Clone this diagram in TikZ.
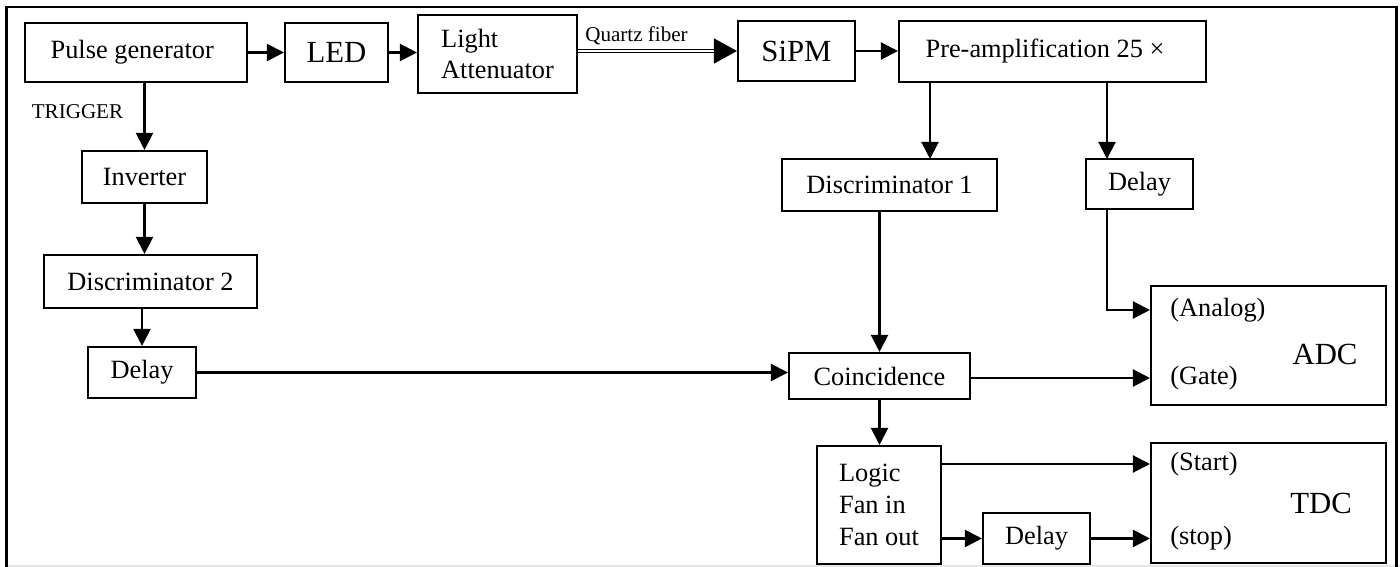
\documentclass[tikz,border=0pt]{standalone}
\usepackage{fontspec}
\setmainfont{Liberation Serif}
\usetikzlibrary{arrows.meta,calc,positioning}
\begin{document}
\begin{tikzpicture}[x=0.02cm,y=-0.02cm,>={Triangle[length=0.34cm,width=0.34cm]},
  box/.style={draw,line width=1.2pt,inner sep=0pt,align=center,font=\fontsize{15}{18}\selectfont},
  big/.style={font=\fontsize{17.5}{21}\selectfont},
  lbl/.style={inner sep=0pt,font=\fontsize{15}{18}\selectfont},
  small/.style={inner sep=0pt,font=\fontsize{12}{14}\selectfont},
  wire/.style={line width=1.2pt,->},
  fiber/.style={line width=0.75pt,double,double distance=1.3pt,-{Triangle[length=0.46cm,width=0.5cm]}},]
\useasboundingbox (0,0) rectangle (1400,567);
% frame
\draw[black!10,line width=0.8pt] (7,566) -- (1400,566);
\draw[line width=1.3pt] (6.5,567) -- (6.5,7) -- (1396.5,7) -- (1396.5,567);
% light path
\node (pg) at (136,52.5)[box,minimum width=4.44cm,minimum height=1.18cm] {Pulse generator\hspace{0.15cm}};
\node (led) at (336.5,52.5)[box,big,minimum width=2.06cm,minimum height=1.18cm] {LED};
\node (att) at (497.5,54)[box,align=left,minimum width=3.18cm,minimum height=1.56cm] {Light\\Attenuator};
\node (sipm) at (796.5,51)[box,big,minimum width=2.34cm,minimum height=1.2cm] {SiPM};
\node (amp) at (1052.5,51.5)[box,minimum width=6.14cm,minimum height=1.22cm] {Pre-amplification 25 ×\hspace{0.3cm}};
\node (fib) at (636.5,36)[small] {Quartz fiber};
% trigger branch
\node (trg) at (77.5,112)[small] {TRIGGER};
\node (inv) at (144.5,177)[box,minimum width=2.5cm,minimum height=1.04cm] {Inverter};
\node (disc2) at (150.5,281.5)[box,minimum width=4.26cm,minimum height=1.06cm] {Discriminator 2};
\node (dly2) at (142,372.5)[box,minimum width=2.16cm,minimum height=1.02cm] {Delay};
% signal branch
\node (disc1) at (889.5,185)[box,minimum width=4.3cm,minimum height=1.04cm] {Discriminator 1};
\node (dly1) at (1139.5,184)[box,minimum width=2.14cm,minimum height=1cm] {Delay};
\node (coinc) at (879.5,376)[box,minimum width=3.62cm,minimum height=0.92cm] {Coincidence};
\node (fan) at (879,505)[box,align=left,minimum width=2.48cm,minimum height=2.36cm] {Logic\\Fan in\\Fan out};
\node (dly3) at (1036.5,538.5)[box,minimum width=2.14cm,minimum height=1.02cm] {Delay};
% ADC and TDC
\node (adc) at (1268.5,345.5)[box,minimum width=4.7cm,minimum height=2.38cm] {};
\node (analog) at (1170,310)[lbl,anchor=west] {(Analog)};
\node (gate) at (1170,378)[lbl,anchor=west] {(Gate)};
\node (adct) at (1325,354)[lbl,big] {ADC};
\node (tdc) at (1268.5,503)[box,minimum width=4.7cm,minimum height=2.4cm] {};
\node (start) at (1170,464)[lbl,anchor=west] {(Start)};
\node (stop) at (1170,538)[lbl,anchor=west] {(stop)};
\node (tdct) at (1321,503)[lbl,big] {TDC};
\coordinate (t1) at (930,159);
\coordinate (t2) at (1107,159);
% connections
\draw[wire] (pg.east) -- (led.west);
\draw[wire] (led.east) -- (led.east -| att.west);
\draw[fiber] (att.east |- sipm) -- (sipm.west);
\draw[wire] (sipm.east) -- (sipm.east -| amp.west);
\draw[wire] (amp.south -| t1) -- (t1);
\draw[wire] (amp.south -| t2) -- (t2);
\draw[wire] (dly1.south -| t2) |- (adc.west |- analog);
\draw[wire] (inv.north |- pg.south) -- (inv.north);
\draw[wire] (inv.south) -- (inv.south |- disc2.north);
\draw[wire] (dly2.north |- disc2.south) -- (dly2.north);
\draw[wire] (dly2.east) -- (dly2.east -| coinc.west);
\draw[wire] (coinc.north |- disc1.south) -- (coinc.north);
\draw[wire] (coinc.east |- gate) -- (adc.west |- gate);
\draw[wire] (coinc.south) -- (coinc.south |- fan.north);
\draw[wire] (fan.east |- start) -- (tdc.west |- start);
\draw[wire] (fan.east |- dly3) -- (dly3.west);
\draw[wire] (dly3.east) -- (dly3.east -| tdc.west);
\end{tikzpicture}
\end{document}
